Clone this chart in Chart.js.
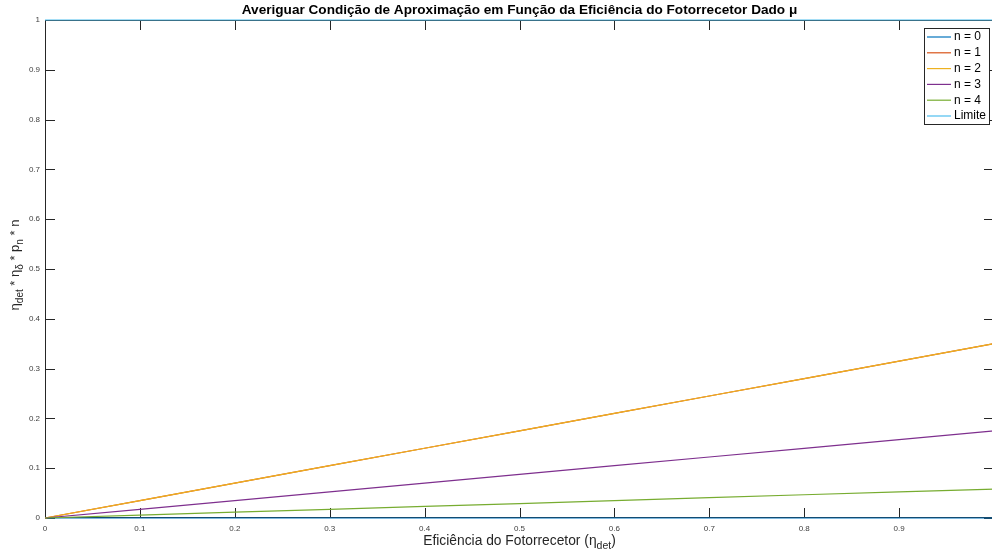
<!DOCTYPE html>
<html>
<head>
<meta charset="utf-8">
<script src="https://cdn.jsdelivr.net/npm/chart.js@4/dist/chart.umd.min.js"></script>
<style>
  html, body { margin: 0; padding: 0; background: #fff; overflow: hidden; }
  #wrap { width: 992px; height: 558px; overflow: hidden; }
</style>
</head>
<body>
<div id="wrap"><canvas id="myChart" width="1000" height="558"></canvas></div>
<script>
const xs = [0, 0.1, 0.2, 0.3, 0.4, 0.5, 0.6, 0.7, 0.8, 0.9, 1]
const n0 = [0, 0, 0, 0, 0, 0, 0, 0, 0, 0, 0]
const n1 = [0, 0.035, 0.07, 0.105, 0.14, 0.175, 0.21, 0.245, 0.28, 0.315, 0.35]
const n2 = [0, 0.035, 0.07, 0.105, 0.14, 0.175, 0.21, 0.245, 0.28, 0.315, 0.35]
const n3 = [0, 0.0175, 0.035, 0.0525, 0.07, 0.0875, 0.105, 0.1225, 0.14, 0.1575, 0.175]
const n4 = [0, 0.0058, 0.0117, 0.0175, 0.0233, 0.029, 0.035, 0.041, 0.0467, 0.0525, 0.058]
const limite = [1, 1, 1, 1, 1, 1, 1, 1, 1, 1, 1]

const names = ["n = 0", "n = 1", "n = 2", "n = 3", "n = 4", "Limite"]
const colors = ["#0072BD", "#D95319", "#EDB120", "#7E2F8E", "#77AC30", "#4DBEEE"]
const series = [n0, n1, n2, n3, n4, limite]

const title = "Averiguar Condição de Aproximação em Função da Eficiência do Fotorrecetor Dado μ"
const xLabel = [["Eficiência do Fotorrecetor (η", 0], ["det", 1], [")", 0]]
const yLabel = [["η", 0], ["det", 1], [" * η", 0], ["δ", 1], [" * p", 0], ["n", 1], [" * n", 0]]

const canvas = document.querySelector("#myChart")
const FONT = "'Liberation Sans', Arial, Helvetica, sans-serif"

// texto com subscritos, centrado em x=0
function richText(ctx, parts, y, big, small) {
    let total = 0
    parts.forEach(p => {
        ctx.font = (p[1] ? small : big) + "px " + FONT
        total += ctx.measureText(p[0]).width
    })
    let x = -total / 2
    parts.forEach(p => {
        ctx.font = (p[1] ? small : big) + "px " + FONT
        ctx.fillText(p[0], x, p[1] ? y + 4 : y)
        x += ctx.measureText(p[0]).width
    })
}

const matlabAxes = {
    id: "matlabAxes",
    beforeDatasetsDraw(chart) {
        const ctx = chart.ctx
        const a = chart.chartArea
        const sx = chart.scales.x
        const sy = chart.scales.y
        ctx.save()
        ctx.strokeStyle = "#262626"
        ctx.lineWidth = 1
        ctx.strokeRect(a.left + 0.5, a.top + 0.5, a.right - a.left - 1, a.bottom - a.top - 1)
        ctx.beginPath()
        sx.ticks.forEach(t => {
            const px = Math.round(sx.getPixelForValue(t.value)) + 0.5
            ctx.moveTo(px, a.bottom); ctx.lineTo(px, a.bottom - 10)
            ctx.moveTo(px, a.top); ctx.lineTo(px, a.top + 10)
        })
        sy.ticks.forEach(t => {
            const py = Math.round(sy.getPixelForValue(t.value)) + 0.5
            ctx.moveTo(a.left, py); ctx.lineTo(a.left + 10, py)
            ctx.moveTo(a.right, py); ctx.lineTo(a.right - 10, py)
        })
        ctx.stroke()
        ctx.restore()
    },
    afterDraw(chart) {
        const ctx = chart.ctx
        const a = chart.chartArea
        const cx = (a.left + a.right) / 2
        ctx.save()
        ctx.fillStyle = "#000"
        ctx.textAlign = "center"
        ctx.textBaseline = "middle"
        ctx.font = "bold 13.6px " + FONT
        ctx.fillText(title, cx, 10)

        ctx.textAlign = "left"
        ctx.textBaseline = "alphabetic"
        ctx.fillStyle = "#262626"
        ctx.save()
        ctx.translate(cx, 545)
        richText(ctx, xLabel, 0, 13.8, 10.5)
        ctx.restore()

        ctx.save()
        ctx.translate(19, (a.top + a.bottom) / 2 - 4)
        ctx.rotate(-Math.PI / 2)
        richText(ctx, yLabel, 0, 13, 10)
        ctx.restore()

        // legenda
        const lx = 924.5, ly = 28.5, lw = 65, lh = 96
        ctx.fillStyle = "#fff"
        ctx.fillRect(lx, ly, lw, lh)
        ctx.strokeStyle = "#262626"
        ctx.lineWidth = 1
        ctx.strokeRect(lx, ly, lw, lh)
        ctx.font = "12px " + FONT
        ctx.textBaseline = "middle"
        names.forEach((nm, i) => {
            const y = 37 + i * 15.8
            ctx.strokeStyle = colors[i]
            ctx.lineWidth = 1.2
            ctx.beginPath()
            ctx.moveTo(927, y); ctx.lineTo(951, y)
            ctx.stroke()
            ctx.fillStyle = "#000"
            ctx.fillText(nm, 954, y)
        })
        ctx.restore()
    }
}

const datasets = series.map((s, i) => ({
    label: names[i],
    data: s.map((v, j) => ({ x: xs[j], y: v })),
    borderColor: colors[i],
    borderWidth: 1.2,
    pointRadius: 0,
    fill: false,
    clip: false,
    order: 5 - i
}))

const fmt = v => String(Number(v.toFixed(1)))

new Chart(canvas, {
    type: "line",
    data: { datasets },
    options: {
        responsive: false,
        animation: false,
        layout: { padding: { top: 20, right: 5, left: 0, bottom: 0 } },
        plugins: { legend: { display: false }, title: { display: false }, tooltip: { enabled: false } },
        scales: {
            x: {
                type: "linear", min: 0, max: 1,
                grid: { display: false, drawTicks: false },
                border: { display: false },
                ticks: {
                    stepSize: 0.1, padding: 6, maxRotation: 0, autoSkip: false,
                    color: "#404040", font: { size: 8, family: FONT },
                    callback: v => v >= 1 ? "" : fmt(v)
                },
                afterFit: s => { s.height = 40 }
            },
            y: {
                min: 0, max: 1,
                grid: { display: false, drawTicks: false },
                border: { display: false },
                ticks: {
                    stepSize: 0.1, padding: 5, autoSkip: false,
                    color: "#404040", font: { size: 8, family: FONT },
                    callback: v => fmt(v)
                },
                afterFit: s => { s.width = 45 }
            }
        }
    },
    plugins: [matlabAxes]
})
</script>
</body>
</html>
